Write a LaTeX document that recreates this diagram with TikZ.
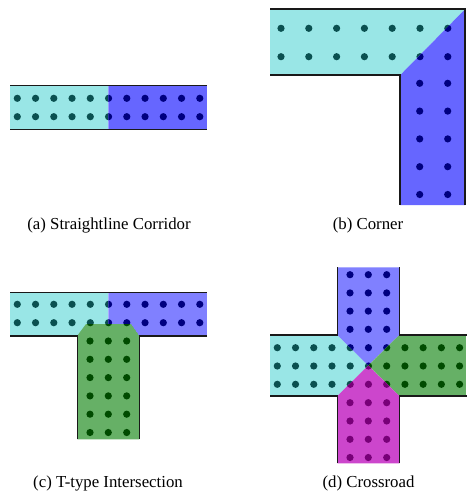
\documentclass[tikz,border=0pt]{standalone}
\usepackage{fontspec}
\setmainfont{Liberation Serif}
\usetikzlibrary{positioning}

\definecolor{aquazone}{RGB}{153,230,230}
\definecolor{bluezone}{RGB}{102,102,255}
\definecolor{paleblue}{RGB}{128,128,255}
\definecolor{greenzone}{RGB}{102,176,102}
\definecolor{pinkzone}{RGB}{204,70,204}
\definecolor{aquadot}{RGB}{10,80,80}
\definecolor{bluedot}{RGB}{0,0,128}
\definecolor{greendot}{RGB}{0,75,0}
\definecolor{pinkdot}{RGB}{120,0,120}
\definecolor{wall}{RGB}{25,25,25}

\tikzset{
  wall/.style={draw=wall, line width=1.6pt},
  caption/.style={font=\fontsize{16.8}{20}\selectfont, inner sep=0pt}
}

% dots of each panel
\newcommand{\dotsA}[1]{%
  \foreach \i in {0,...,10} \foreach \y in {98.3,116.7}
    \fill[#1] (17.3+18.25*\i,\y) circle (3.6pt);}
\newcommand{\dotsB}[1]{%
  \foreach \i in {0,...,6} \foreach \y in {28.3,56.7}
    \fill[#1] (281+27.8*\i,\y) circle (3.6pt);
  \foreach \x in {419.7,447.7} \foreach \j in {0,...,4}
    \fill[#1] (\x,83.3+27.8*\j) circle (3.6pt);}
\newcommand{\dotsC}[1]{%
  \foreach \i in {0,...,10} \foreach \y in {304.3,322.7}
    \fill[#1] (17.3+18.25*\i,\y) circle (3.6pt);
  \foreach \x in {90,108.3,126.7} \foreach \j in {0,...,5}
    \fill[#1] (\x,341+18.3*\j) circle (3.6pt);}
\newcommand{\dotsD}[1]{%
  \foreach \i in {0,...,10} \foreach \y in {347.7,366,384.3}
    \fill[#1] (277.3+18.23*\i,\y) circle (3.6pt);
  \foreach \x in {350,368.3,386.7} \foreach \y in {274.7,292.9,311.1,329.3,402.7,421,439.3,457.5}
    \fill[#1] (\x,\y) circle (3.6pt);}

\begin{document}
\begin{tikzpicture}[x=1pt, y=-1pt]
    \useasboundingbox (0,0) rectangle (474,500);

    % (a) straight corridor
    \begin{scope}
        \clip (10,85.7) rectangle (108.3,129.3);
        \fill[aquazone] (10,85.7) rectangle (108.3,129.3);
        \dotsA{aquadot}
    \end{scope}
    \begin{scope}
        \clip (108.3,85.7) rectangle (207,129.3);
        \fill[bluezone] (108.3,85.7) rectangle (207,129.3);
        \dotsA{bluedot}
    \end{scope}
    \draw[wall] (10,85.7) -- (207,85.7);
    \draw[wall] (10,129.3) -- (207,129.3);
    \node[caption] (capA) at (109,225) {(a) Straightline Corridor};

    % (b) corner
    \begin{scope}
        \clip (270,9.3) -- (465,9.3) -- (400,75.3) -- (270,75.3) -- cycle;
        \fill[aquazone] (270,9.3) -- (465,9.3) -- (400,75.3) -- (270,75.3) -- cycle;
        \dotsB{aquadot}
    \end{scope}
    \begin{scope}
        \clip (465,9.3) -- (465,205) -- (400,205) -- (400,75.3) -- cycle;
        \fill[bluezone] (465,9.3) -- (465,205) -- (400,205) -- (400,75.3) -- cycle;
        \dotsB{bluedot}
    \end{scope}
    \draw[wall] (270,9.3) -- (465,9.3) -- (465,205);
    \draw[wall] (270,75.3) -- (400,75.3) -- (400,205);
    \node[caption] (capB) at (368,225) {(b) Corner};

    % (c) T-type intersection
    \begin{scope}
        \clip (10,292.3) rectangle (108.3,335.7);
        \fill[aquazone] (10,292.3) rectangle (108.3,335.7);
        \dotsC{aquadot}
    \end{scope}
    \begin{scope}
        \clip (108.3,292.3) rectangle (207,335.7);
        \fill[paleblue] (108.3,292.3) rectangle (207,335.7);
        \dotsC{bluedot}
    \end{scope}
    \begin{scope}
        \clip (77.3,439.3) -- (77.3,335.7) -- (86,324) -- (131,324) -- (139.3,335.7) -- (139.3,439.3) -- cycle;
        \fill[greenzone] (77.3,439.3) -- (77.3,335.7) -- (86,324) -- (131,324) -- (139.3,335.7) -- (139.3,439.3) -- cycle;
        \dotsC{greendot}
    \end{scope}
    \draw[wall] (10,292.3) -- (207,292.3);
    \draw[wall] (10,335.7) -- (77.3,335.7) -- (77.3,439.3);
    \draw[wall] (207,335.7) -- (139.3,335.7) -- (139.3,439.3);
    \node[caption] (capC) at (108,483) {(c) T-type Intersection};

    % (d) crossroad
    \begin{scope}
        \clip (270,335) -- (337.3,335) -- (368.3,365.5) -- (337.3,396) -- (270,396) -- cycle;
        \fill[aquazone] (270,335) -- (337.3,335) -- (368.3,365.5) -- (337.3,396) -- (270,396) -- cycle;
        \dotsD{aquadot}
    \end{scope}
    \begin{scope}
        \clip (337.3,267.3) -- (399.3,267.3) -- (399.3,335) -- (368.3,365.5) -- (337.3,335) -- cycle;
        \fill[paleblue] (337.3,267.3) -- (399.3,267.3) -- (399.3,335) -- (368.3,365.5) -- (337.3,335) -- cycle;
        \dotsD{bluedot}
    \end{scope}
    \begin{scope}
        \clip (466.7,335) -- (399.3,335) -- (368.3,365.5) -- (399.3,396) -- (466.7,396) -- cycle;
        \fill[greenzone] (466.7,335) -- (399.3,335) -- (368.3,365.5) -- (399.3,396) -- (466.7,396) -- cycle;
        \dotsD{greendot}
    \end{scope}
    \begin{scope}
        \clip (337.3,463.3) -- (337.3,396) -- (368.3,365.5) -- (399.3,396) -- (399.3,463.3) -- cycle;
        \fill[pinkzone] (337.3,463.3) -- (337.3,396) -- (368.3,365.5) -- (399.3,396) -- (399.3,463.3) -- cycle;
        \dotsD{pinkdot}
    \end{scope}
    \draw[wall] (270,335) -- (337.3,335) -- (337.3,267.3);
    \draw[wall] (399.3,267.3) -- (399.3,335) -- (466.7,335);
    \draw[wall] (270,396) -- (337.3,396) -- (337.3,463.3);
    \draw[wall] (399.3,463.3) -- (399.3,396) -- (466.7,396);
    \node[caption] (capD) at (368.5,483) {(d) Crossroad};
\end{tikzpicture}
\end{document}
